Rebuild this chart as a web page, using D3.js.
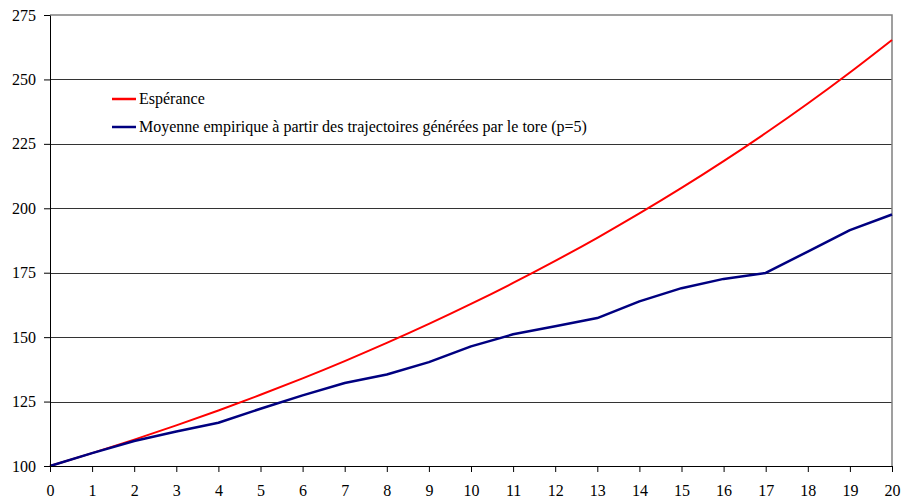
<!DOCTYPE html>
<html>
<head>
<meta charset="utf-8">
<script src="https://cdn.jsdelivr.net/npm/d3@7"></script>
<style>
  body { margin: 0; background: #fff; }
</style>
</head>
<body>
<svg id="chart"></svg>
<script>
// x : 0..20
const steps = d3.range(0, 21)
const esperance = [100, 105, 110.25, 115.76, 121.55, 127.63, 134.01, 140.71, 147.75, 155.13,
  162.89, 171.03, 179.59, 188.56, 197.99, 207.89, 218.29, 229.2, 240.66, 252.7, 265.33]
const moyenne = [100, 105, 109.7, 113.4, 116.8, 122.2, 127.4, 132.2, 135.5, 140.3,
  146.4, 151.1, 154.2, 157.4, 163.9, 169, 172.6, 174.9, 183.2, 191.5, 197.6]
const yTicks = [100, 125, 150, 175, 200, 225, 250, 275]
const seriesNames = ["Espérance", "Moyenne empirique à partir des trajectoires générées par le tore (p=5)"]
const seriesColors = ["#ff0000", "#000080"]

const font = "Liberation Serif, DejaVu Serif"
const width = 903, height = 502
const margin = ({ top: 15, right: 11, bottom: 36, left: 50 })

const x = d3.scaleLinear()
              .domain([0, 20])
              .range([margin.left, width - margin.right])

const y = d3.scaleLinear()
              .domain([100, 275])
              .range([height - margin.bottom, margin.top])

const svg = d3.select("#chart")
    .attr("width", width)
    .attr("height", height)
    .attr("viewBox", [0, 0, width, height])

// gridlines
svg.append("g")
    .attr("stroke", "#333")
    .attr("stroke-width", 1)
  .selectAll("line")
  .data(yTicks.slice(1, -1))
  .join("line")
    .attr("x1", margin.left)
    .attr("x2", width - margin.right)
    .attr("y1", d => Math.round(y(d)) + 0.5)
    .attr("y2", d => Math.round(y(d)) + 0.5)

// plot area border (top and right)
svg.append("path")
    .attr("fill", "none")
    .attr("stroke", "#808080")
    .attr("stroke-width", 1.5)
    .attr("d", `M${margin.left},${y(275)}H${x(20)}V${y(100)}`)

const line = d3.line()
                .x((d, i) => x(steps[i]))
                .y(d => y(d))

svg.append("path")
    .attr("fill", "none")
    .attr("stroke", seriesColors[0])
    .attr("stroke-width", 2)
    .attr("d", line.curve(d3.curveMonotoneX)(esperance))

svg.append("path")
    .attr("fill", "none")
    .attr("stroke", seriesColors[1])
    .attr("stroke-width", 2.5)
    .attr("stroke-linejoin", "round")
    .attr("d", line.curve(d3.curveLinear)(moyenne))

const xAxis = g => g
              .attr("transform", `translate(0,${y(100)})`)
              .call(d3.axisBottom(x).tickValues(steps).tickSize(6).tickSizeOuter(0).tickPadding(13))
              .attr("font-family", font)
              .attr("font-size", 16)
              .call(g => g.selectAll("line, path").attr("stroke", "#000"))
              .call(g => g.selectAll("text").attr("fill", "#000"))

const yAxis = g => g
              .attr("transform", `translate(${margin.left},0)`)
              .call(d3.axisLeft(y).tickValues(yTicks).tickSize(6).tickSizeOuter(0).tickPadding(8))
              .attr("font-family", font)
              .attr("font-size", 16)
              .call(g => g.selectAll("line, path").attr("stroke", "#000"))
              .call(g => g.selectAll("text").attr("fill", "#000"))

svg.append("g").call(xAxis)
svg.append("g").call(yAxis)

// legend
const legend = svg.append("g")
    .attr("font-family", font)
    .attr("font-size", 16)
  .selectAll("g")
  .data(seriesNames)
  .join("g")
    .attr("transform", (d, i) => `translate(112,${99 + i * 28})`)

legend.append("line")
    .attr("x1", 0)
    .attr("x2", 24)
    .attr("stroke", (d, i) => seriesColors[i])
    .attr("stroke-width", 2.5)

legend.append("text")
    .attr("x", 27)
    .attr("dy", "0.33em")
    .text(d => d)
</script>
</body>
</html>
